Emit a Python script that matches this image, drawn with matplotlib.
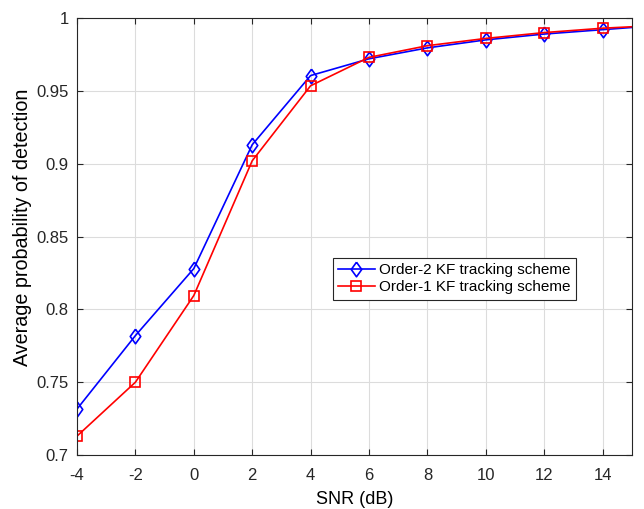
import numpy as np
import matplotlib.pyplot as plt

plt.rcParams['font.family'] = ['Liberation Sans', 'DejaVu Sans']
plt.rcParams['axes.unicode_minus'] = False

snr = [-4, -2, 0, 2, 4, 6, 8, 10, 12, 14, 15]
pd_order2 = [0.7316, 0.782, 0.828, 0.913, 0.9605, 0.972, 0.9795, 0.985, 0.989, 0.992, 0.9935]
pd_order1 = [0.713, 0.750, 0.8095, 0.902, 0.9535, 0.973, 0.981, 0.986, 0.990, 0.993, 0.994]
marked = list(range(10))

# matlab-ish diamond (a bit wider than mpl 'd')
diamond = [(0, 1), (0.72, 0), (0, -1), (-0.72, 0), (0, 1)]

fig = plt.figure(figsize=(6.44, 5.09), dpi=100)
ax = fig.add_axes([0.1196, 0.106, 0.8614, 0.8586])

ax.plot(snr, pd_order2, color='b', marker=diamond, markevery=marked, markersize=10.5,
        markerfacecolor='none', markeredgewidth=1.2, linewidth=1.2,
        label='Order-2 KF tracking scheme')
ax.plot(snr, pd_order1, color='r', marker='s', markevery=marked, markersize=7,
        markerfacecolor='none', markeredgewidth=1.2, linewidth=1.2,
        label='Order-1 KF tracking scheme')

ax.set_xlim(-4, 15)
ax.set_ylim(0.7, 1)
ax.set_xticks(np.arange(-4, 15, 2))
ax.set_yticks([0.7, 0.75, 0.8, 0.85, 0.9, 0.95, 1])
ax.set_yticklabels(['0.7', '0.75', '0.8', '0.85', '0.9', '0.95', '1'])
ax.grid(True, color='#dcdcdc', linewidth=0.8)
ax.set_axisbelow(True)
ax.tick_params(direction='in', top=True, right=True, labelsize=12, colors='#262626',
               length=4)
ax.tick_params(axis='x', pad=9)
ax.tick_params(axis='y', pad=6)
for s in ax.spines.values():
    s.set_color('#262626')
    s.set_linewidth(0.8)

ax.set_xlabel('SNR (dB)', fontsize=13, labelpad=6)
ax.set_ylabel('Average probability of detection', fontsize=14.2)
ax.yaxis.set_label_coords(-0.082, 0.52)

leg = ax.legend(loc='upper left', bbox_to_anchor=(0.461, 0.451), fontsize=11,
                fancybox=False, framealpha=1, edgecolor='#262626',
                borderpad=0.35, labelspacing=0.2, handlelength=2.4, handletextpad=0.3,
                borderaxespad=0)
leg.get_frame().set_linewidth(0.8)

fig.savefig('out.png', dpi=100)
